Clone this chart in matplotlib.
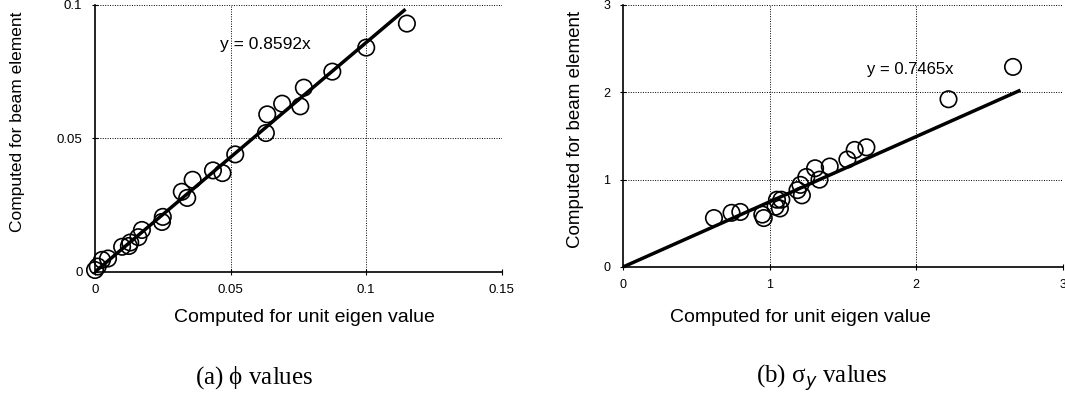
import matplotlib
matplotlib.use("Agg")
import matplotlib.pyplot as plt
import numpy as np

plt.rcParams['font.family'] = ['Liberation Sans', 'DejaVu Sans']

# (a) phi values: unit eigen value vs beam element
phi_unit = [0.0, 0.001, 0.0026, 0.0048, 0.010, 0.0125, 0.013, 0.016, 0.0173,
            0.0247, 0.025, 0.032, 0.034, 0.036, 0.0435, 0.047, 0.0517,
            0.063, 0.0635, 0.069, 0.0757, 0.077, 0.0875, 0.100, 0.115]
phi_beam = [0.0007, 0.002, 0.0045, 0.005, 0.0094, 0.0097, 0.011, 0.013, 0.0157,
            0.0187, 0.0206, 0.030, 0.0277, 0.0345, 0.038, 0.037, 0.044,
            0.052, 0.059, 0.063, 0.062, 0.069, 0.075, 0.084, 0.093]
phi_slope = 0.8592

# (b) sigma_y values
sig_unit = [0.62, 0.74, 0.80, 0.95, 0.96, 1.04, 1.05, 1.07, 1.08, 1.19, 1.21,
            1.22, 1.25, 1.31, 1.34, 1.41, 1.53, 1.58, 1.66, 2.22, 2.66]
sig_beam = [0.56, 0.62, 0.63, 0.60, 0.56, 0.69, 0.77, 0.67, 0.77, 0.88, 0.94,
            0.82, 1.03, 1.13, 1.00, 1.15, 1.23, 1.34, 1.37, 1.92, 2.29]
sig_slope = 0.7465

fig = plt.figure(figsize=(10.65, 4.07), dpi=100)
ax1 = fig.add_axes([0.0892, 0.332, 0.382, 0.656])
ax2 = fig.add_axes([0.585, 0.344, 0.413, 0.644])


def style(ax, xlim, ylim, xt, yt, xtl, ytl, fs):
    ax.set_xlim(*xlim)
    ax.set_ylim(*ylim)
    ax.set_xticks(xt)
    ax.set_yticks(yt)
    ax.set_xticklabels(xtl, fontsize=fs)
    ax.set_yticklabels(ytl, fontsize=fs)
    ax.tick_params(direction='inout', length=4, width=0.8, pad=7)
    for s in ['top', 'right']:
        ax.spines[s].set_visible(False)
    for s in ['left', 'bottom']:
        ax.spines[s].set_linewidth(1.2)
    # dotted grid, skipping the outer x limit
    for v in xt[1:-1]:
        ax.axvline(v, color='black', lw=0.7, ls=(0, (1, 1.5)), zorder=0)
    for v in yt[1:]:
        ax.axhline(v, color='black', lw=0.7, ls=(0, (1, 1.5)), zorder=0)


style(ax1, (0, 0.15), (0, 0.1), [0, 0.05, 0.1, 0.15], [0, 0.05, 0.1],
      ['0', '0.05', '0.1', '0.15'], ['0', '0.05', '0.1'], 9.5)
style(ax2, (0, 3), (0, 3), [0, 1, 2, 3], [0, 1, 2, 3],
      ['0', '1', '2', '3'], ['0', '1', '2', '3'], 9)

ax1.scatter(phi_unit, phi_beam, s=140, facecolors='none', edgecolors='black',
            linewidths=1.2, zorder=3, clip_on=False)
xl = np.array([0, 0.114])
ax1.plot(xl, phi_slope * xl, color='black', lw=2.5, zorder=4)
ax1.text(0.063, 0.085, 'y = %.4fx' % phi_slope, fontsize=12.5, ha='center', va='center')

ax2.scatter(sig_unit, sig_beam, s=140, facecolors='none', edgecolors='black',
            linewidths=1.2, zorder=3, clip_on=False)
xl = np.array([0, 2.7])
ax2.plot(xl, sig_slope * xl, color='black', lw=2.5, zorder=4)
ax2.text(1.96, 2.26, 'y = %.4fx' % sig_slope, fontsize=12, ha='center', va='center')

# axis titles and captions
fig.text(304 / 1065, 1 - 318 / 407, 'Computed for unit eigen value', fontsize=14, ha='center', va='center')
fig.text(800 / 1065, 1 - 318 / 407, 'Computed for unit eigen value', fontsize=14, ha='center', va='center')
fig.text(18 / 1065, 1 - 122 / 407, 'Computed for beam element', fontsize=12.5, ha='center', va='center', rotation=90)
fig.text(575 / 1065, 1 - 129 / 407, 'Computed for beam element', fontsize=13.5, ha='center', va='center', rotation=90)

fig.text(254 / 1065, 1 - 378 / 407, r'(a) $\mathregular{\phi}$ values', fontsize=18,
         family=['Liberation Serif', 'DejaVu Serif'], ha='center', va='center')
fig.text(822 / 1065, 1 - 378 / 407, r'(b) $\mathregular{\sigma}_{\mathit{y}}$ values', fontsize=18,
         family=['Liberation Serif', 'DejaVu Serif'], ha='center', va='center')

fig.savefig('out.png', dpi=100)
